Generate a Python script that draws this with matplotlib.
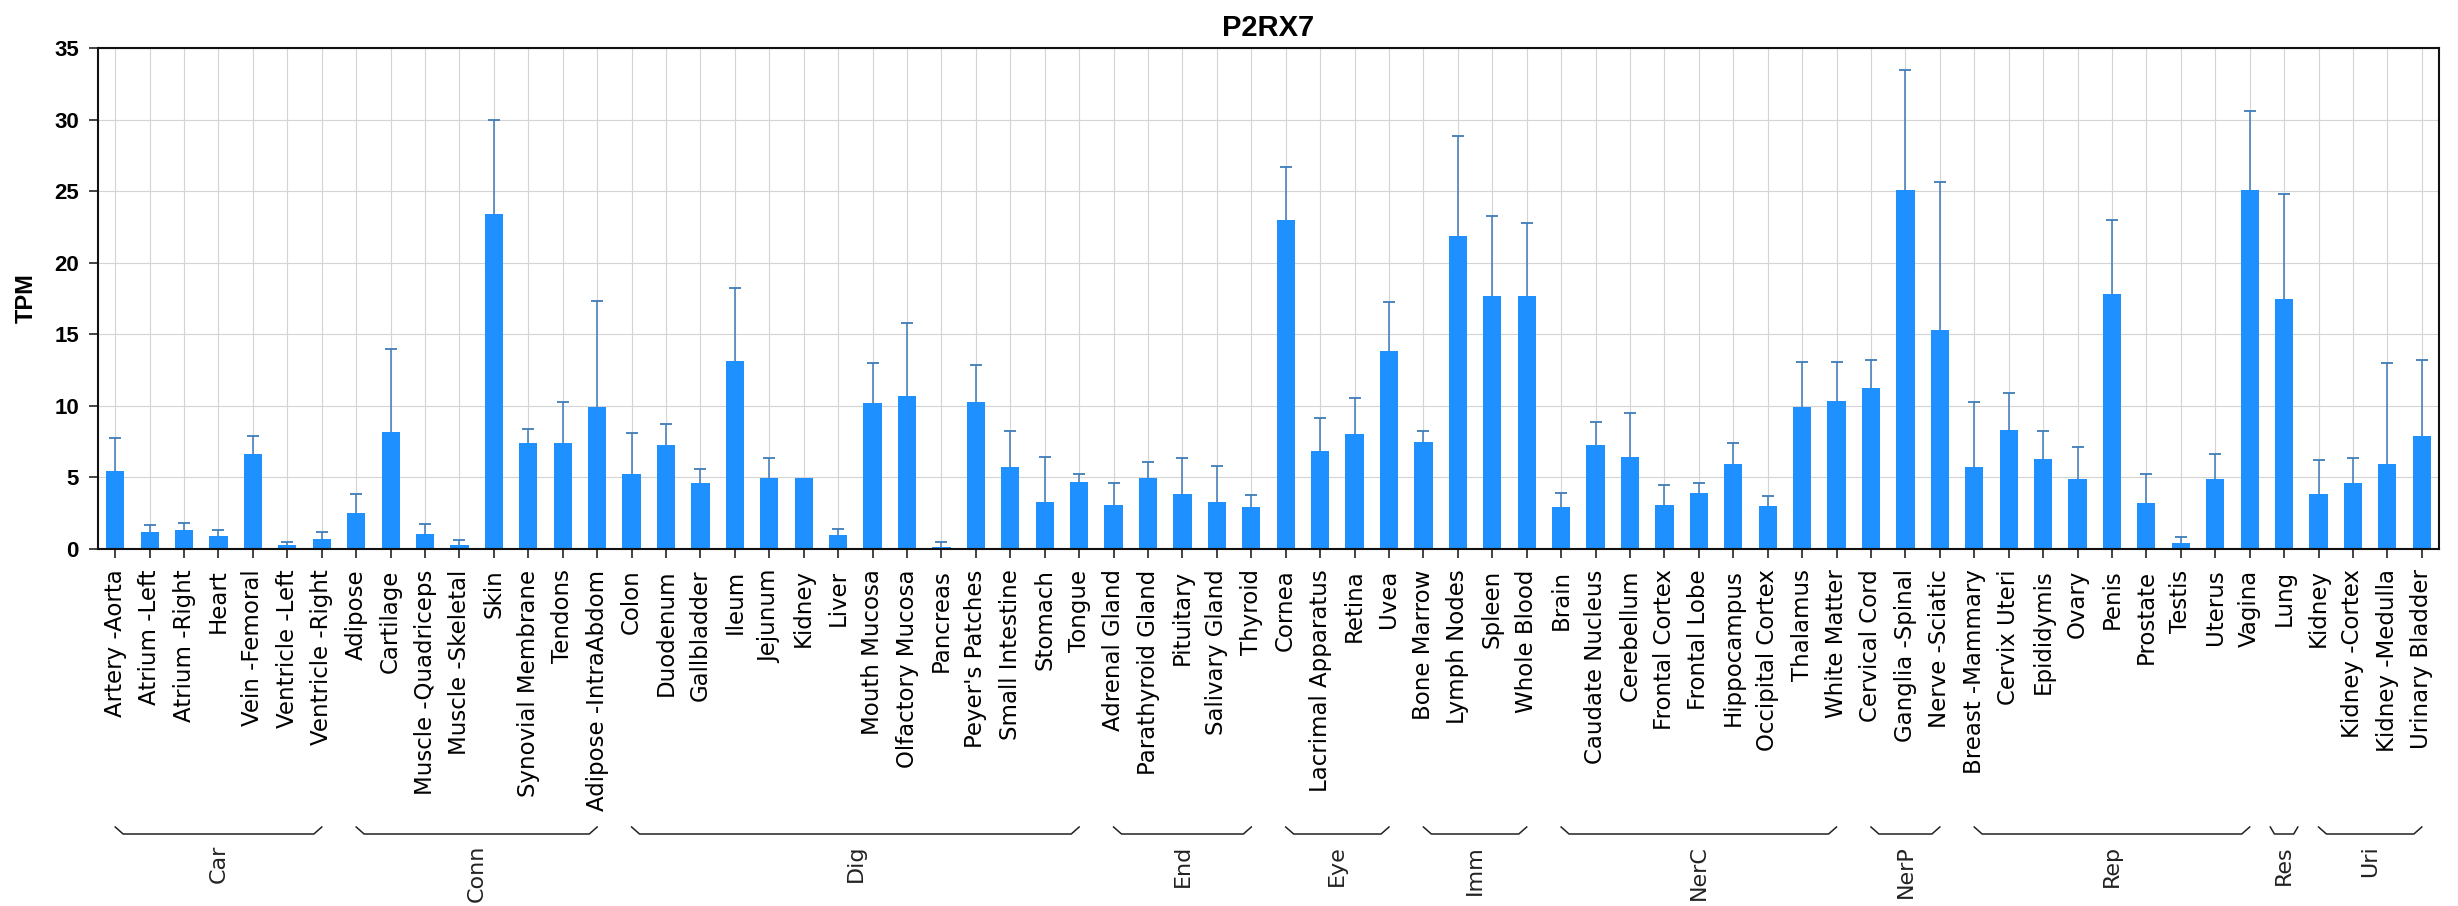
import numpy as np
import matplotlib.pyplot as plt
from matplotlib.transforms import blended_transform_factory

tissues = [
    "Artery -Aorta", "Atrium -Left", "Atrium -Right", "Heart", "Vein -Femoral",
    "Ventricle -Left", "Ventricle -Right",
    "Adipose", "Cartilage", "Muscle -Quadriceps", "Muscle -Skeletal", "Skin",
    "Synovial Membrane", "Tendons", "Adipose -IntraAbdom",
    "Colon", "Duodenum", "Gallbladder", "Ileum", "Jejunum", "Kidney", "Liver",
    "Mouth Mucosa", "Olfactory Mucosa", "Pancreas", "Peyer's Patches",
    "Small Intestine", "Stomach", "Tongue",
    "Adrenal Gland", "Parathyroid Gland", "Pituitary", "Salivary Gland", "Thyroid",
    "Cornea", "Lacrimal Apparatus", "Retina", "Uvea",
    "Bone Marrow", "Lymph Nodes", "Spleen", "Whole Blood",
    "Brain", "Caudate Nucleus", "Cerebellum", "Frontal Cortex", "Frontal Lobe",
    "Hippocampus", "Occipital Cortex", "Thalamus", "White Matter",
    "Cervical Cord", "Ganglia -Spinal", "Nerve -Sciatic",
    "Breast -Mammary", "Cervix Uteri", "Epididymis", "Ovary", "Penis",
    "Prostate", "Testis", "Uterus", "Vagina",
    "Lung",
    "Kidney", "Kidney -Cortex", "Kidney -Medulla", "Urinary Bladder",
]

groups = ["Car", "Conn", "Dig", "End", "Eye", "Imm", "NerC", "NerP", "Rep", "Res", "Uri"]
group_sizes = [7, 8, 14, 5, 4, 4, 9, 3, 9, 1, 4]

# mean TPM per tissue
tpm = [
    5.46, 1.17, 1.30, 0.92, 6.66, 0.30, 0.67,
    2.54, 8.15, 1.05, 0.30, 23.4, 7.40, 7.40, 9.95,
    5.24, 7.28, 4.61, 13.1, 4.96, 4.96, 1.00, 10.2, 10.7, 0.12, 10.3, 5.73, 3.29, 4.71,
    3.04, 4.96, 3.84, 3.29, 2.92,
    23.0, 6.86, 8.03, 13.84,
    7.48, 21.86, 17.65, 17.65,
    2.92, 7.26, 6.46, 3.09, 3.91, 5.91, 2.97, 9.95, 10.32,
    11.22, 25.08, 15.28,
    5.73, 8.28, 6.26, 4.89, 17.83, 3.22, 0.42, 4.91, 25.08,
    17.48,
    3.84, 4.59, 5.91, 7.90,
]

# top of the error whisker (mean + sd); nan where no spread is shown
tpm_upper = [
    7.75, 1.67, 1.80, 1.30, 7.88, 0.50, 1.17,
    3.81, 14.0, 1.77, 0.62, 30.0, 8.40, 10.3, 17.3,
    8.13, 8.75, 5.58, 18.2, 6.36, np.nan, 1.40, 12.96, 15.76, 0.47, 12.84, 8.23, 6.46, 5.21,
    4.59, 6.08, 6.36, 5.83, 3.79,
    26.7, 9.15, 10.57, 17.28,
    8.25, 28.85, 23.24, 22.74,
    3.91, 8.88, 9.52, 4.46, 4.59, 7.38, 3.69, 13.09, 13.09,
    13.21, 33.43, 25.65,
    10.3, 10.92, 8.25, 7.13, 23.01, 5.21, 0.87, 6.61, 30.62,
    24.78,
    6.21, 6.36, 12.96, 13.21,
]

W, H = 2458, 906
fig = plt.figure(figsize=(W / 100, H / 100), dpi=100)
ax = fig.add_axes([98 / W, 1 - 549 / H, (2439 - 98) / W, (549 - 48) / H])

x = np.arange(len(tissues))
mean = np.array(tpm)
upper = np.array(tpm_upper, dtype=float)

ax.bar(x, mean, width=0.53, color="#1E90FF", zorder=2)
ax.vlines(x, mean, upper, color="#3f7cb8", linewidth=1.1, zorder=3)
ax.plot(x, upper, ls="none", marker="_", markersize=9, markeredgewidth=1.3,
        color="#3f7cb8", zorder=3)

ax.set_xlim(-0.5, len(tissues) - 0.5)
ax.set_ylim(0, 35)
ax.set_yticks(np.arange(0, 36, 5))
ax.set_xticks(x)
ax.set_xticklabels(tissues, rotation=90, fontsize=16.5, family="DejaVu Sans")
for lab in ax.get_yticklabels():
    lab.set_fontsize(16)
    lab.set_fontweight("bold")
    lab.set_family("Liberation Sans")

ax.grid(True, color="#d4d4d4", linewidth=0.8)
ax.set_axisbelow(True)
for sp in ax.spines.values():
    sp.set_linewidth(1.5)
    sp.set_color("#111111")
ax.tick_params(axis="both", direction="out", length=6.7, width=1.1, color="#111111")
ax.tick_params(axis="x", pad=8)
ax.tick_params(axis="y", pad=7)

ax.set_title("P2RX7", fontsize=21, fontweight="bold", family="Liberation Sans", pad=9)
ax.set_ylabel("TPM", fontsize=17, fontweight="bold", family="Liberation Sans", labelpad=12)

# group brackets under the tissue labels
trans = blended_transform_factory(ax.transData, fig.transFigure)
def fy(row):
    return 1 - row / H

start = 0
for name, n in zip(groups, group_sizes):
    x0, x1 = start, start + n - 1
    if n == 1:
        x0, x1 = x0 - 0.4, x1 + 0.4
    d = 0.23 if n > 1 else 0.12
    ax.plot([x0, x0 + d, x1 - d, x1], [fy(827), fy(834), fy(834), fy(827)],
            transform=trans, color="#222222", linewidth=1.1, clip_on=False)
    ax.text((x0 + x1) / 2, fy(845), name, rotation=90, ha="center", va="top",
            transform=trans, fontsize=16, family="DejaVu Sans", color="#222222")
    start += n

fig.savefig("out.png", dpi=100)
